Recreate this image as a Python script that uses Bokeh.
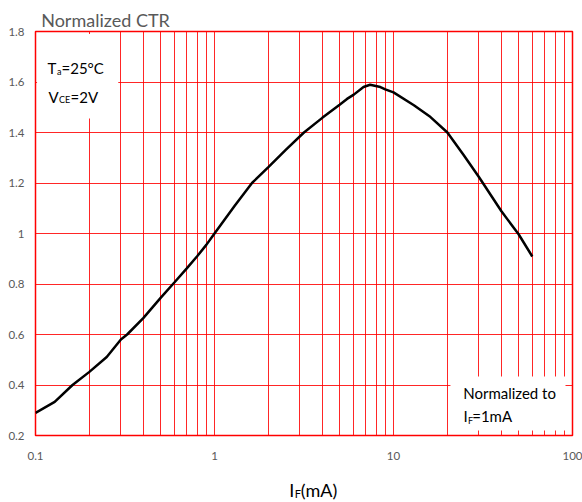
from bokeh.plotting import figure
from bokeh.layouts import column
from bokeh.models import FixedTicker, CustomJSTickFormatter, Label, Range1d
from bokeh.embed import file_html
from bokeh.resources import INLINE

# data
if_ma = [0.1, 0.128, 0.161, 0.2, 0.25, 0.3, 0.325, 0.4, 0.5, 0.6, 0.7, 0.8, 0.9, 1.0,
         1.3, 1.62, 2.0, 2.5, 3.16, 4.0, 5.0, 5.5, 6.0, 6.8, 7.4, 8.45, 9, 10, 13, 16.1,
         20, 24.7, 30, 40, 50, 59.6]
ctr = [0.289, 0.333, 0.40, 0.452, 0.511, 0.58, 0.60, 0.665, 0.745, 0.808, 0.862, 0.91,
       0.955, 1.0, 1.111, 1.2, 1.263, 1.331, 1.40, 1.458, 1.51, 1.533, 1.55, 1.58, 1.589,
       1.58, 1.571, 1.559, 1.508, 1.461, 1.40, 1.31, 1.224, 1.089, 0.997, 0.909]
x_major = [0.1, 1, 10, 100]
x_grid = [m * d for d in [0.1, 1, 10] for m in range(1, 10)] + [100]
y_ticks = [0.2, 0.4, 0.6, 0.8, 1.0, 1.2, 1.4, 1.6, 1.8]

FONT = "Lato"
GRAY = "#595959"
W = 582
LIFT = 6  # labels render a few px below their alphabetic baseline


def lab(fig, x, y, dx, dy, text, size, color="black"):
    fig.add_layout(Label(x=x, y=y, x_offset=dx, y_offset=dy + LIFT, text=text,
                         text_font=FONT, text_font_size=size, text_color=color,
                         text_baseline="alphabetic", text_align="left"))


# ---- main chart
p = figure(width=W, height=477, x_axis_type="log", output_backend="svg",
           toolbar_location=None, x_range=Range1d(0.1, 100), y_range=Range1d(0.2, 1.8),
           min_border_left=35, min_border_right=10, min_border_top=31, min_border_bottom=42,
           title="Normalized CTR")
p.title.align = "left"
p.title.offset = 5.7
p.title.standoff = 1
p.title.text_font = FONT
p.title.text_font_size = "18px"
p.title.text_font_style = "normal"
p.title.text_color = GRAY
p.outline_line_color = "red"
p.outline_line_width = 1.5

p.xaxis.ticker = FixedTicker(ticks=x_major)
p.yaxis.ticker = FixedTicker(ticks=y_ticks)
p.xaxis.formatter = CustomJSTickFormatter(code="return String(tick)")
p.yaxis.formatter = CustomJSTickFormatter(code="return String(Math.round(tick*10)/10)")
for ax in (p.xaxis, p.yaxis):
    ax.axis_line_color = None
    ax.major_tick_line_color = None
    ax.minor_tick_line_color = None
    ax.major_tick_out = 0
    ax.major_tick_in = 0
    ax.major_label_text_font = FONT
    ax.major_label_text_font_size = "11.5px"
    ax.major_label_text_color = GRAY
p.xaxis.major_label_standoff = 16
p.yaxis.major_label_standoff = 11

p.xgrid.ticker = FixedTicker(ticks=x_grid)
p.ygrid.ticker = FixedTicker(ticks=y_ticks)
for g in (p.xgrid, p.ygrid):
    g.grid_line_color = "red"
    g.grid_line_width = 1
    g.grid_line_alpha = 0.85

# white boxes behind annotations
p.quad(left=[0.102], right=[0.29], top=[1.79], bottom=[1.455], fill_color="white", line_color=None)
p.quad(left=[20.8], right=[91.4], top=[0.434], bottom=[0.22], fill_color="white", line_color=None)

p.line(if_ma, ctr, line_color="black", line_width=2.5)

# conditions
lab(p, 0.1, 1.8, 12, -42, "T", "15px")
lab(p, 0.1, 1.8, 21.5, -46, "a", "9px")
lab(p, 0.1, 1.8, 26, -42, "=25\u00b0C", "15px")
lab(p, 0.1, 1.8, 13, -71, "V", "15px")
lab(p, 0.1, 1.8, 23.5, -74, "CE", "9px")
lab(p, 0.1, 1.8, 35, -71, "=2V", "15px")
# normalization note
lab(p, 0.1, 0.2, 427.7, 36.7, "Normalized to", "15px")
lab(p, 0.1, 0.2, 428, 13.3, "I", "15px")
lab(p, 0.1, 0.2, 432.5, 9.3, "F", "9px")
lab(p, 0.1, 0.2, 436.7, 13.3, "=1mA", "15px")

# ---- x axis label strip (frame covers the whole strip)
H = 25
bot = figure(width=W, height=H, x_range=Range1d(0, W), y_range=Range1d(0, H),
             x_axis_location=None, y_axis_location=None, toolbar_location=None,
             output_backend="svg", min_border_left=0, min_border_right=0,
             min_border_top=0, min_border_bottom=0)
bot.title.visible = False
bot.grid.visible = False
bot.outline_line_color = None
lab(bot, 275, 7, 0, 0, "I", "18px")
lab(bot, 281, 3, 0, 0, "F", "11px")
lab(bot, 287.5, 7, 0, 0, "(mA)", "18px")

layout = column(p, bot, spacing=0)
open("out.html", "w").write(file_html(layout, INLINE))
